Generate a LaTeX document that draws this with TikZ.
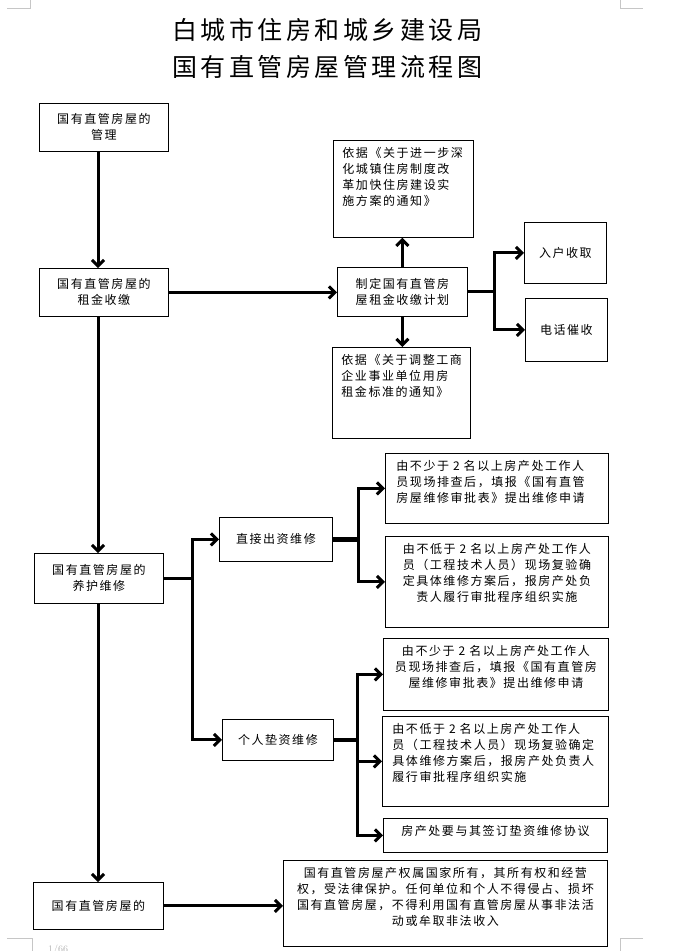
\documentclass[tikz,border=0pt]{standalone}
\usepackage{fontspec}
\newfontfamily\cjk{Noto Sans CJK SC}[LetterSpace=13]
\newfontfamily\cjktitle{Noto Sans CJK SC}[LetterSpace=14]
\usetikzlibrary{arrows.meta,positioning}

\begin{document}
\begin{tikzpicture}[x=1pt, y=-1pt,
        box/.style={rectangle, draw, line width=0.8pt, anchor=north west, align=center, inner sep=2pt, font=\cjk\fontsize{12}{16}\selectfont},
        notebox/.style={box, inner ysep=7pt, text height=10.5pt},
        flow/.style={-{Straight Barb[length=6pt,width=12pt]}, line width=3pt},
        stub/.style={line width=4.5pt},
        cropmark/.style={gray!45, line width=0.8pt},
    ]
        \useasboundingbox (0,0) rectangle (680,951);

        % Page corners
        \draw[cropmark] (7,8) -- (30,8) -- (30,0);
        \draw[cropmark] (620,0) -- (620,8) -- (643,8);
        \draw[cropmark] (7,938) -- (32,938) -- (32,951);
        \draw[cropmark] (643,938) -- (620,938) -- (620,951);
        \node[anchor=north west, text=gray!60, font=\fontsize{10}{12}\selectfont, inner sep=0pt] (pageno) at (48,945) {1/66};

        % Title
        \node[font=\cjktitle\fontsize{25}{30}\selectfont] (title1) at (327,30) {白城市住房和城乡建设局};
        \node[font=\cjktitle\fontsize{25}{30}\selectfont] (title2) at (327,67) {国有直管房屋管理流程图};

        % Left column
        \coordinate (spine) at (98,0);
        \node[box, minimum width=129pt, minimum height=48pt] (manage) at (39,103) {国有直管房屋的\\管理};
        \node[box, minimum width=129pt, minimum height=48pt] (rent) at (39,268) {国有直管房屋的\\租金收缴};
        \node[box, minimum width=129pt, minimum height=50pt] (repair) at (34,553) {国有直管房屋的\\养护维修};
        \node[box, minimum width=130pt, minimum height=47pt] (owner) at (33,882) {国有直管房屋的};
        \draw[flow] (manage.south -| spine) -- (rent.north -| spine);
        \draw[flow] (rent.south -| spine) -- (repair.north -| spine);
        \draw[flow] (repair.south -| spine) -- (owner.north -| spine);

        % Rent collection
        \node[box, minimum width=130pt, minimum height=49pt] (plan) at (337,267) {制定国有直管房\\屋租金收缴计划};
        \node[notebox, align=left, inner xsep=9pt, text width=122pt, text depth=72.5pt] (lawa) at (333,140) {依据《关于进一步深\\化城镇住房制度改\\革加快住房建设实\\施方案的通知》};
        \node[notebox, align=left, inner xsep=9pt, text width=120pt, text depth=66.5pt] (lawb) at (332,347) {依据《关于调整工商\\企业事业单位用房\\租金标准的通知》};
        \node[box, minimum width=82pt, minimum height=61pt] (door) at (524,222) {入户收取};
        \node[box, minimum width=82pt, minimum height=63pt] (phone) at (525,298) {电话催收};
        \coordinate (split1) at (494,0);
        \draw[flow] (rent.east) -- (rent.east -| plan.west);
        \draw[flow] (plan.north) -- (plan.north |- lawa.south);
        \draw[flow] (plan.south) -- (plan.south |- lawb.north);
        \draw[flow] (plan.east) -- (plan.east -| split1) |- (door.west);
        \draw[flow] (plan.east -| split1) |- (phone.west);

        % Repair: direct funding
        \coordinate (split2) at (192,0);
        \node[box, minimum width=113pt, minimum height=44pt] (direct) at (219,517) {直接出资维修};
        \node[notebox, align=left, inner xsep=11pt, text width=201pt, text depth=45.5pt] (checka) at (385,453) {由不少于 2 名以上房产处工作人\\员现场排查后，填报《国有直管\\房屋维修审批表》提出维修申请};
        \node[notebox, inner xsep=8pt, text width=207pt, text depth=66.5pt] (verifya) at (385,536) {由不低于 2 名以上房产处工作人\\员（工程技术人员）现场复验确\\定具体维修方案后，报房产处负\\责人履行审批程序组织实施};
        \coordinate (split3) at (358,0);
        \draw[flow] (repair.east) -- (repair.east -| split2) |- (direct.west);
        \draw[stub] (direct.east) -- (direct.east -| split3);
        \draw[flow] (direct.east -| split3) |- (checka.west);
        \draw[flow] (direct.east -| split3) |- (verifya.west);

        % Repair: advance by tenant
        \node[box, minimum width=111pt, minimum height=41pt] (self) at (222,719) {个人垫资维修};
        \node[notebox, inner xsep=8pt, text width=209pt, text depth=47.5pt] (checkb) at (383,638) {由不少于 2 名以上房产处工作人\\员现场排查后，填报《国有直管房\\屋维修审批表》提出维修申请};
        \node[notebox, align=left, inner xsep=10pt, text width=206pt, text depth=65.5pt] (verifyb) at (382,716) {由不低于 2 名以上房产处工作人\\员（工程技术人员）现场复验确定\\具体维修方案后，报房产处负责人\\履行审批程序组织实施};
        \node[notebox, inner xsep=8pt, text width=208pt, text depth=9.5pt] (pact) at (383,818) {房产处要与其签订垫资维修协议};
        \coordinate (split4) at (357,0);
        \draw[flow] (repair.east -| split2) |- (self.west);
        \draw[stub] (self.east) -- (self.east -| split4);
        \draw[flow] (self.east -| split4) |- (checkb.west);
        \draw[flow] (self.east -| split4) |- (verifyb.west);
        \draw[flow] (self.east -| split4) |- (pact.west);

        % Ownership
        \node[notebox, inner xsep=8pt, text width=308pt, text depth=61.5pt] (law) at (283,860) {国有直管房屋产权属国家所有，其所有权和经营\\权，受法律保护。任何单位和个人不得侵占、损坏\\国有直管房屋，不得利用国有直管房屋从事非法活\\动或牟取非法收入};
        \draw[flow] (owner.east) -- (owner.east -| law.west);
    \end{tikzpicture}
\end{document}
